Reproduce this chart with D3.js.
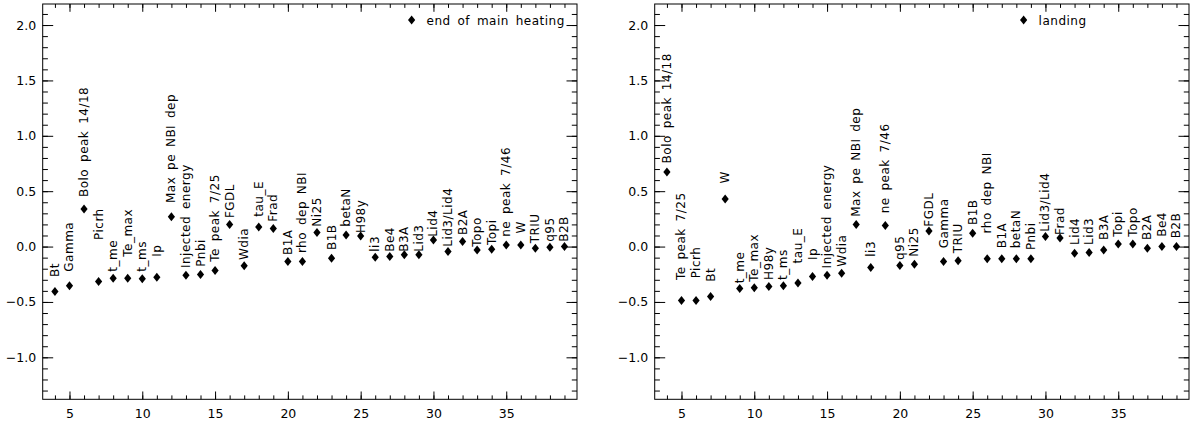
<!DOCTYPE html>
<html>
<head>
<meta charset="utf-8">
<script src="https://cdn.jsdelivr.net/npm/d3@7"></script>
<style>
body { margin: 0; background: #fff; }
text { font-family: "DejaVu Sans", sans-serif; fill: #000; }
</style>
</head>
<body>
<div id="chart"></div>
<script>
// signal index (x) shared by both panels
var positions = [4, 5, 6, 7, 8, 9, 10, 11, 12, 13, 14, 15, 16, 17, 18, 19, 20, 21,
    22, 23, 24, 25, 26, 27, 28, 29, 30, 31, 32, 33, 34, 35, 36, 37, 38, 39];

// end of main heating
var heatingNames = ["Bt", "Gamma", "Bolo peak 14/18", "Picrh", "t_me", "Te_max", "t_ms", "Ip",
    "Max pe NBI dep", "Injected energy", "Pnbi", "Te peak 7/25", "FGDL", "Wdia", "tau_E", "Frad",
    "B1A", "rho dep NBI", "Ni25", "B1B", "betaN", "H98y", "li3", "Be4", "B3A", "Lid3", "Lid4",
    "Lid3/Lid4", "B2A", "Topo", "Topi", "ne peak 7/46", "W", "TRIU", "q95", "B2B"];
var heatingValues = [-0.405, -0.354, 0.34, -0.315, -0.285, -0.285, -0.29, -0.276, 0.27, -0.258,
    -0.252, -0.216, 0.20, -0.174, 0.177, 0.162, -0.135, -0.135, 0.126, -0.105, 0.105, 0.096,
    -0.096, -0.09, -0.075, -0.075, 0.06, -0.045, 0.045, -0.03, -0.024, 0.015, 0.015, -0.015,
    -0.006, 0.0];
// where each label starts (data units)
var heatingLabelAt = [-0.275, -0.227, 0.447, 0.059, -0.227, -0.092, -0.227, -0.092, 0.393, -0.194,
    -0.182, -0.137, 0.257, -0.122, 0.269, 0.224, -0.077, -0.059, 0.179, -0.032, 0.179, 0.122,
    -0.047, -0.047, -0.047, -0.047, 0.088, -0.002, 0.104, -0.002, 0.014, 0.088, 0.119, 0.029,
    0.043, 0.043];

// landing
var landingNames = ["Bolo peak 14/18", "Te peak 7/25", "Picrh", "Bt", "W", "t_me", "Te_max", "H98y",
    "t_ms", "tau_E", "Ip", "Injected energy", "Wdia", "Max pe NBI dep", "li3", "ne peak 7/46", "q95",
    "Ni25", "FGDL", "Gamma", "TRIU", "B1B", "rho dep NBI", "B1A", "betaN", "Pnbi", "Lid3/Lid4",
    "Frad", "Lid4", "Lid3", "B3A", "Topi", "Topo", "B2A", "Be4", "B2B"];
var landingValues = [0.673, -0.486, -0.486, -0.45, 0.43, -0.378, -0.372, -0.36, -0.354, -0.33,
    -0.27, -0.26, -0.24, 0.20, -0.19, 0.19, -0.171, -0.159, 0.14, -0.135, -0.129, 0.12, -0.111,
    -0.111, -0.111, -0.111, 0.09, 0.078, -0.06, -0.054, -0.03, 0.024, 0.024, -0.015, 0.0, 0.0];
var landingLabelAt = [0.751, -0.302, -0.287, -0.318, 0.570, -0.332, -0.318, -0.302, -0.302, -0.152,
    -0.122, -0.197, -0.182, 0.269, -0.092, 0.300, -0.122, -0.092, 0.179, -0.016, -0.061, 0.194,
    0.119, -0.016, -0.016, -0.032, 0.134, 0.104, 0.014, 0.014, 0.059, 0.088, 0.088, 0.059, 0.088,
    0.074];

var xTicks = [5, 10, 15, 20, 25, 30, 35];
var yTicks = [-1.0, -0.5, 0.0, 0.5, 1.0, 1.5, 2.0];
var legendAt = [28.5, 2.045];

var width = 1190;
var height = 425;
var panelW = 534.3;
var panelH = 395.3;

var svg = d3.select('#chart')
    .append('svg')
    .attr('width', width)
    .attr('height', height);

// IDL style diamond, a bit taller than wide
var diamond = {
    draw: function(ctx, size) {
        var h = Math.sqrt(size) / 2, w = h * 0.8;
        ctx.moveTo(0, -h);
        ctx.lineTo(w, 0);
        ctx.lineTo(0, h);
        ctx.lineTo(-w, 0);
        ctx.closePath();
    }
};
var symbol = d3.symbol().type(diamond).size(81);

drawPanel(42.7, heatingNames, heatingValues, heatingLabelAt, 'end of main heating');
drawPanel(654.7, landingNames, landingValues, landingLabelAt, 'landing');

function drawPanel(left, names, values, labelAt, legendText) {
    var g = svg.append('g')
        .attr('transform', 'translate(' + left + ',4)');

    var x = d3.scaleLinear().domain([3.16, 39.86]).range([0, panelW]);
    var y = d3.scaleLinear().domain([-1.379, 2.19]).range([panelH, 0]);

    var minorX = d3.range(4, 40);
    var minorY = d3.range(-13, 22).map(function(d) { return d / 10; });

    // ticks inward on all four sides
    g.append('g').attr('transform', 'translate(0,' + panelH + ')')
        .call(d3.axisBottom(x).tickValues(minorX).tickSize(-3.9).tickFormat(''));
    g.append('g').attr('transform', 'translate(0,' + panelH + ')')
        .call(d3.axisBottom(x).tickValues(xTicks).tickSize(-7.8).tickPadding(9.5).tickFormat(d3.format('d')));
    g.append('g')
        .call(d3.axisTop(x).tickValues(minorX).tickSize(-3.9).tickFormat(''));
    g.append('g')
        .call(d3.axisTop(x).tickValues(xTicks).tickSize(-7.8).tickFormat(''));
    g.append('g')
        .call(d3.axisLeft(y).tickValues(minorY).tickSize(-5.2).tickFormat(''));
    g.append('g')
        .call(d3.axisLeft(y).tickValues(yTicks).tickSize(-10.5).tickPadding(6.5).tickFormat(d3.format('.1f')));
    g.append('g').attr('transform', 'translate(' + panelW + ',0)')
        .call(d3.axisRight(y).tickValues(minorY).tickSize(-5.2).tickFormat(''));
    g.append('g').attr('transform', 'translate(' + panelW + ',0)')
        .call(d3.axisRight(y).tickValues(yTicks).tickSize(-10.5).tickFormat(''));

    g.selectAll('.domain').remove();
    g.selectAll('.tick line').attr('stroke', '#000').attr('stroke-width', 1);
    g.selectAll('.tick text')
        .attr('font-family', '"DejaVu Sans", sans-serif')
        .attr('font-size', 12.5)
        .attr('fill', '#000');

    g.append('rect')
        .attr('width', panelW)
        .attr('height', panelH)
        .attr('fill', 'none')
        .attr('stroke', '#000')
        .attr('stroke-width', 1);

    g.selectAll('path.pt')
        .data(values)
        .enter()
        .append('path')
        .attr('class', 'pt')
        .attr('d', symbol)
        .attr('transform', (d, i) => 'translate(' + x(positions[i]) + ',' + y(d) + ')')
        .attr('fill', '#000');

    g.selectAll('text.lbl')
        .data(names)
        .enter()
        .append('text')
        .attr('class', 'lbl')
        .attr('transform', (d, i) => 'translate(' + (x(positions[i]) + 4) + ',' + y(labelAt[i]) + ') rotate(-90)')
        .attr('font-size', 12)
        .attr('letter-spacing', 0.5)
        .attr('word-spacing', 2.5)
        .text((d) => d);

    // legend
    g.append('path')
        .attr('d', symbol)
        .attr('transform', 'translate(' + x(legendAt[0]) + ',' + y(legendAt[1]) + ')')
        .attr('fill', '#000');
    g.append('text')
        .attr('x', x(legendAt[0]) + 15)
        .attr('y', y(legendAt[1]) + 4.5)
        .attr('font-size', 12)
        .attr('letter-spacing', 0.5)
        .attr('word-spacing', 2.5)
        .text(legendText);
}
</script>
</body>
</html>
